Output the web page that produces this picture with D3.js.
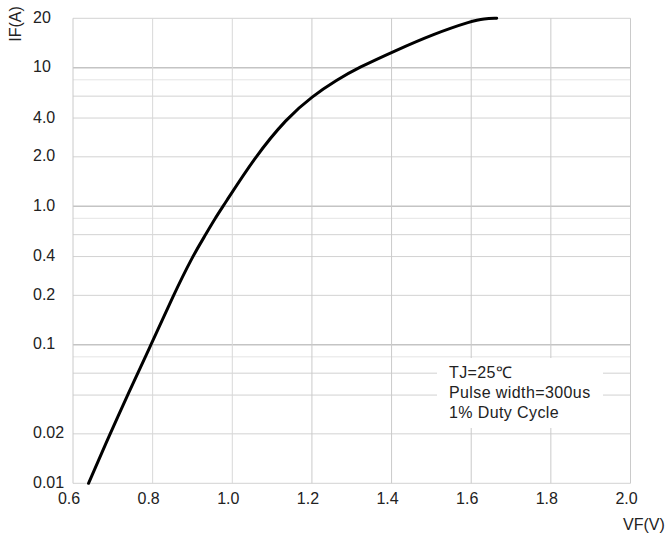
<!DOCTYPE html>
<html>
<head>
<meta charset="utf-8">
<script src="https://cdn.jsdelivr.net/npm/d3@7"></script>
<style>
  html, body { margin: 0; padding: 0; background: #fff; }
  svg { display: block; font-family: "Liberation Sans", Arial, sans-serif; }
</style>
</head>
<body>
<svg id="chart" width="672" height="535"></svg>
<script>
// ---- data ----
const vfValues = [0.639, 0.693, 0.737, 0.796, 0.852, 0.900, 0.933, 0.957, 0.977, 1.057, 1.137, 1.201, 1.263, 1.316, 1.409, 1.505, 1.603, 1.632, 1.664];
const ifValues = [0.01, 0.02, 0.04, 0.1, 0.2, 0.4, 0.6, 0.8, 1.0, 2.0, 4.0, 6.0, 8.0, 10.0, 12.7, 16.05, 19.34, 19.9, 20.0];
const xTicks = [0.6, 0.8, 1.0, 1.2, 1.4, 1.6, 1.8, 2.0];
const xTickLabels = ["0.6", "0.8", "1.0", "1.2", "1.4", "1.6", "1.8", "2.0"];
const yGrid = [0.01, 0.02, 0.04, 0.06, 0.08, 0.1, 0.2, 0.4, 0.6, 0.8, 1, 2, 4, 6, 8, 10, 20];
const yTicks = [0.01, 0.02, 0.1, 0.2, 0.4, 1, 2, 4, 10, 20];
const yTickLabels = ["0.01", "0.02", "0.1", "0.2", "0.4", "1.0", "2.0", "4.0", "10", "20"];
const noteLines = ["TJ=25\u2103", "Pulse width=300us", "1% Duty Cycle"];
const xTitle = "VF(V)";
const yTitle = "IF(A)";

// ---- layout ----
const plotLeft = 73, plotRight = 630.5, plotTop = 18.3, plotBottom = 483.3;
const svg = d3.select("#chart");

const x = d3.scaleLinear().domain([0.6, 2.0]).range([plotLeft, plotRight]);

// the chart's printed grid: within each decade the 1-2-4-6-8 lines sit at these fractions
const mantissa = [1, 2, 4, 6, 8, 10];
const decadeFrac = d3.scaleLinear().domain(mantissa.map(Math.log10)).range([0, 0.357, 0.637, 0.795, 0.913, 1]);
function warp(v) {
  const l = Math.log10(v);
  const d = Math.floor(l + 1e-9);
  return d + decadeFrac(l - d);
}
const yLin = d3.scaleLinear().domain([warp(0.01), warp(20)]).range([plotBottom, plotTop]);
const y = v => yLin(warp(v));

function isDecade(v) {
  const l = Math.log10(v);
  return Math.abs(l - Math.round(l)) < 1e-9 && v > 0.011 && v < 19;
}

// ---- grid ----
const g = svg.append("g");
function hColor(v) {
  const l = Math.log10(v);
  const m = Math.round(v / Math.pow(10, Math.floor(l + 1e-9)));
  if (isDecade(v)) return "#c4c4c4";
  if (m === 8) return "#e4e4e4";
  return "#d2d2d2";
}
g.selectAll("line.h").data(yGrid).join("line")
  .attr("x1", plotLeft).attr("x2", plotRight)
  .attr("y1", d => y(d)).attr("y2", d => y(d))
  .attr("stroke", d => hColor(d))
  .attr("stroke-width", d => isDecade(d) ? 1.6 : 1);

g.selectAll("line.v").data(xTicks).join("line")
  .attr("x1", d => x(d)).attr("x2", d => x(d))
  .attr("y1", plotTop).attr("y2", plotBottom)
  .attr("stroke", (d, i) => (i === 1 || i === 2) ? "#d8d8d8" : "#cacaca")
  .attr("stroke-width", 1);

// ---- curve ----
const pts = vfValues.map((v, i) => [v, ifValues[i]]);
const line = d3.line().x(d => x(d[0])).y(d => y(d[1])).curve(d3.curveBasis);
svg.append("path").datum(pts)
  .attr("d", line)
  .attr("fill", "none")
  .attr("stroke", "#000")
  .attr("stroke-width", 3)
  .attr("stroke-linecap", "round");

// ---- annotation ----
svg.append("rect")
  .attr("x", 437).attr("y", 358).attr("width", 166).attr("height", 70)
  .attr("fill", "#fff");
svg.append("g").selectAll("text").data(noteLines).join("text")
  .attr("x", 449).attr("y", (d, i) => 377.5 + i * 20)
  .attr("font-size", 16).attr("letter-spacing", 0.4)
  .attr("fill", "#222")
  .text(d => d);

// ---- tick labels ----
svg.append("g").selectAll("text").data(yTicks).join("text")
  .attr("x", 33).attr("y", d => y(d) + 4.5)
  .attr("font-size", 16).attr("fill", "#222")
  .text((d, i) => yTickLabels[i]);

svg.append("g").selectAll("text").data(xTicks).join("text")
  .attr("x", d => x(d) - 4).attr("y", 504)
  .attr("text-anchor", "middle")
  .attr("font-size", 16).attr("fill", "#222")
  .text((d, i) => xTickLabels[i]);

// ---- axis titles ----
svg.append("text")
  .attr("x", 623).attr("y", 530)
  .attr("font-size", 16).attr("fill", "#222")
  .text(xTitle);
svg.append("text")
  .attr("transform", "translate(21,24) rotate(-90)")
  .attr("text-anchor", "middle")
  .attr("font-size", 16).attr("fill", "#222")
  .text(yTitle);
</script>
</body>
</html>
